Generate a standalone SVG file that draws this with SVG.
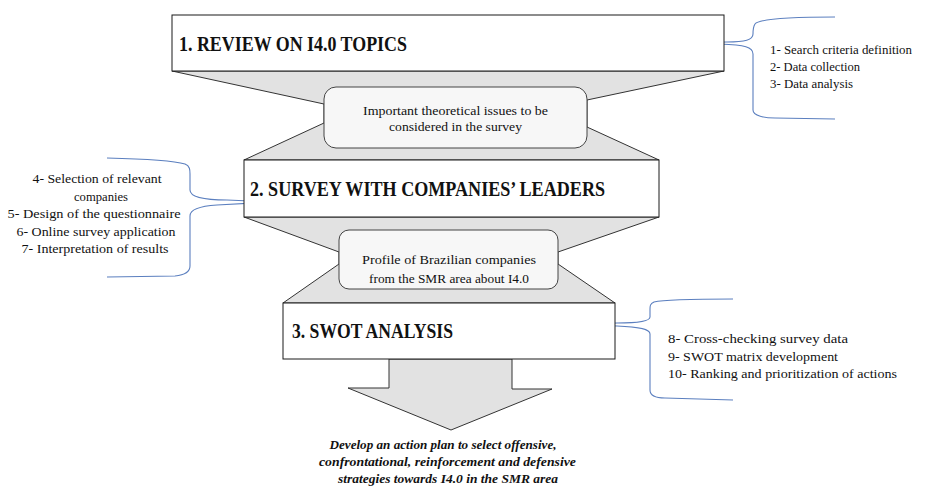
<svg xmlns="http://www.w3.org/2000/svg" width="927" height="486" viewBox="0 0 927 486">
  <style>
    .bg { fill: #ffffff; }
    .funnel { fill: #e2e2e2; stroke: #333333; stroke-width: 1; stroke-linejoin: miter; }
    .stage { fill: #ffffff; stroke: #1a1a1a; stroke-width: 1; }
    .bridge { fill: #f7f7f7; stroke: #444444; stroke-width: 1; }
    .brace { fill: none; stroke: #5b7fbf; stroke-width: 1.1; }
    text { font-family: 'Liberation Serif', 'DejaVu Serif', serif; fill: #111111; }
    .title { font-weight: bold; font-size: 20px; }
    .body { font-size: 13.5px; }
    .mid { text-anchor: middle; }
    .goal { font-weight: bold; font-style: italic; font-size: 13px; text-anchor: middle; }
  </style>
  <rect class="bg" x="0" y="0" width="927" height="486"/>

  <!-- connectors: funnels between stages, final arrow, and braces -->
  <g id="connectors">
    <polygon class="funnel" points="172,71 724,71 587,100 587,127 659,160 244,160 324,123 324,104"/>
    <polygon class="funnel" points="244,217 659,217 558,252 558,264 615,303 283,303 339,264 339,252"/>
    <polygon class="funnel" points="389,359 512,359 512,389 552,389 451,430 348,388 389,388"/>
    <path class="brace" d="M835,17 C795,17 760,18 755,24 C753,27 753,30 753,34 C753,40 745,42 727,42 L668,43"/>
    <path class="brace" d="M668,43 L720,44 C745,45 753,47 753,54 L753,110 C753,116 765,118 775,118 L835,119"/>
    <path class="brace" d="M107,158 C150,159 175,161 185,164 C190,166 190,170 190,174 L190,190 C190,197 205,200 227,200 L273,202"/>
    <path class="brace" d="M273,202 L217,205 C200,206 190,209 190,216 L190,266 C190,272 185,275 175,276 L107,277"/>
    <path class="brace" d="M733,299 C700,299 662,300 654,302 C650,304 650,306 650,309 L650,317 C650,321 640,323 617,323 L567,325"/>
    <path class="brace" d="M567,325 L617,326 C640,327 650,329 650,334 L650,390 C650,395 655,398 665,398 L733,400"/>
  </g>

  <g id="stage-review">
    <rect class="stage" x="172" y="15" width="552" height="56"/>
    <text class="title" x="179" y="51" textLength="228" lengthAdjust="spacingAndGlyphs">1. REVIEW ON I4.0 TOPICS</text>
  </g>

  <g id="bridge-issues">
    <rect class="bridge" x="324" y="87" width="263" height="61" rx="12" ry="12"/>
    <text class="body mid" x="455.5" y="115" textLength="185" lengthAdjust="spacingAndGlyphs">Important theoretical  issues to be</text>
    <text class="body mid" x="455.5" y="131" textLength="133" lengthAdjust="spacingAndGlyphs">considered in the survey</text>
  </g>

  <g id="stage-survey">
    <rect class="stage" x="244" y="160" width="415" height="57"/>
    <text class="title" x="250" y="196" textLength="355" lengthAdjust="spacingAndGlyphs">2. SURVEY WITH COMPANIES’ LEADERS</text>
  </g>

  <g id="bridge-profile">
    <rect class="bridge" x="339" y="230" width="219" height="59" rx="10" ry="10"/>
    <text class="body mid" x="449" y="264" textLength="174" lengthAdjust="spacingAndGlyphs">Profile of Brazilian  companies</text>
    <text class="body mid" x="449" y="283" textLength="160" lengthAdjust="spacingAndGlyphs">from the SMR area about I4.0</text>
  </g>

  <g id="stage-swot">
    <rect class="stage" x="283" y="303" width="332" height="56"/>
    <text class="title" x="292" y="338" textLength="161" lengthAdjust="spacingAndGlyphs">3. SWOT ANALYSIS</text>
  </g>

  <g id="steps-review">
    <text class="body" x="770" y="54" textLength="142" lengthAdjust="spacingAndGlyphs">1- Search criteria definition</text>
    <text class="body" x="770" y="71" textLength="90" lengthAdjust="spacingAndGlyphs">2- Data collection</text>
    <text class="body" x="770" y="88" textLength="83" lengthAdjust="spacingAndGlyphs">3- Data analysis</text>
  </g>

  <g id="steps-survey">
    <text class="body mid" x="97" y="183" textLength="129" lengthAdjust="spacingAndGlyphs">4- Selection of relevant</text>
    <text class="body mid" x="101" y="200.5" textLength="54" lengthAdjust="spacingAndGlyphs">companies</text>
    <text class="body mid" x="94" y="218" textLength="173" lengthAdjust="spacingAndGlyphs">5- Design  of the questionnaire</text>
    <text class="body mid" x="96" y="235.5" textLength="159" lengthAdjust="spacingAndGlyphs">6- Online  survey application</text>
    <text class="body mid" x="95" y="253" textLength="147" lengthAdjust="spacingAndGlyphs">7- Interpretation  of results</text>
  </g>

  <g id="steps-swot">
    <text class="body" x="668" y="343" textLength="180" lengthAdjust="spacingAndGlyphs">8- Cross-checking survey data</text>
    <text class="body" x="668" y="361" textLength="170" lengthAdjust="spacingAndGlyphs">9- SWOT matrix  development</text>
    <text class="body" x="668" y="378" textLength="229" lengthAdjust="spacingAndGlyphs">10- Ranking  and prioritization  of actions</text>
  </g>

  <g id="goal">
    <text class="goal" x="443" y="449" textLength="227" lengthAdjust="spacingAndGlyphs">Develop an action plan to select offensive,</text>
    <text class="goal" x="447.5" y="466" textLength="257" lengthAdjust="spacingAndGlyphs">confrontational, reinforcement and defensive</text>
    <text class="goal" x="448" y="483" textLength="220" lengthAdjust="spacingAndGlyphs">strategies towards I4.0 in the SMR area</text>
  </g>
</svg>
